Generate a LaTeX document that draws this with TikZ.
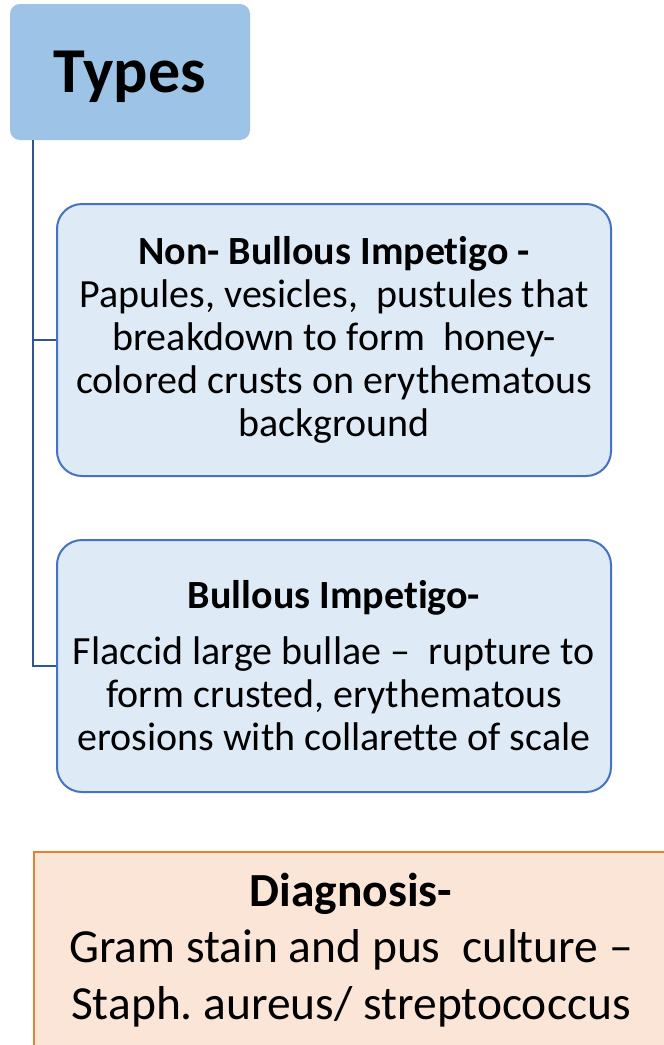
\documentclass[tikz,border=0pt]{standalone}
\usepackage{fontspec}
\setmainfont{Carlito}[Ligatures={NoCommon}]
\usetikzlibrary{calc}
\frenchspacing
\definecolor{typesfill}{HTML}{9DC3E6}
\definecolor{boxfill}{HTML}{DEEBF7}
\definecolor{boxline}{HTML}{4472C4}
\definecolor{connline}{HTML}{2F5597}
\definecolor{diagfill}{HTML}{FBE5D6}
\definecolor{diagline}{HTML}{ED7D31}
\tikzset{
  typesbox/.style={rectangle, rounded corners=10pt, fill=typesfill, draw=none,
    minimum width=240pt, minimum height=136pt, inner sep=0pt, text height=53pt, text depth=13pt,
    font=\fontsize{64}{70}\selectfont\bfseries},
  infobox/.style={rectangle, rounded corners=25pt, fill=boxfill, draw=boxline, line width=2pt,
    minimum width=554pt, inner sep=0pt, align=center,
    font=\fontsize{40}{43}\selectfont},
  diagbox/.style={rectangle, fill=diagfill, draw=diagline, line width=2pt,
    minimum width=634pt, minimum height=196pt, inner sep=0pt, align=center,
    font=\fontsize{47.5}{56.5}\selectfont},
  conn/.style={draw=connline, line width=2.2pt},
}
\begin{document}
\begin{tikzpicture}[x=1pt,y=-1pt]
\clip (0,0) rectangle (664,1045);
\useasboundingbox (0,0) rectangle (664,1045);
\fill[white] (0,0) rectangle (664,1045);
\node[typesbox] (types) at (130,72) {Types};
\node[infobox, minimum height=272pt] (b1) at (334,340)
  {\textbf{Non- Bullous Impetigo -}\\Papules, vesicles,\ \ pustules that\\breakdown to form\ \ honey-\\colored crusts on erythematous\\background};
\node[infobox, minimum height=252pt] (b2) at (334,666)
  {\textbf{Bullous Impetigo-}\\[13pt]Flaccid large bullae --\ \ rupture to\\form crusted, erythematous\\erosions with collarette of scale};
\node[diagbox] (diag) at (351,950)
  {\textbf{Diagnosis-}\\Gram stain and pus\ \ culture --\\Staph. aureus/ streptococcus};
\coordinate (trunk) at ($(types.south west)+(23,0)$);
\draw[conn] (trunk) |- (b1.west);
\draw[conn] (trunk) |- (b2.west);
\end{tikzpicture}
\end{document}
